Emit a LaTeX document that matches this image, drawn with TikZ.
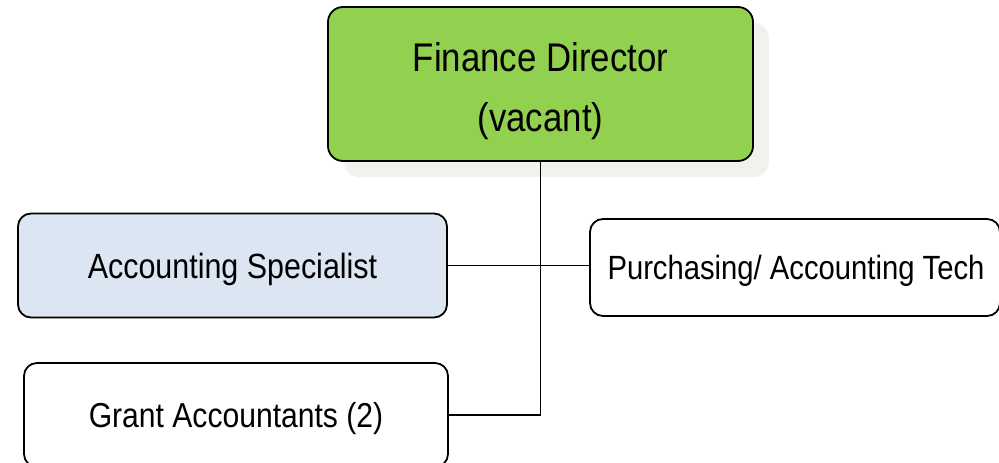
\documentclass[tikz,border=0pt]{standalone}
\usepackage{fontspec}
\setmainfont{Liberation Sans}[FakeStretch=0.87]
\usetikzlibrary{shadows}
\definecolor{dirgreen}{HTML}{92D050}
\definecolor{specblue}{HTML}{DCE6F2}
\definecolor{shadowc}{HTML}{F2F1EC}
\begin{document}
\begin{tikzpicture}[x=1bp,y=-1bp,
  box/.style={draw=black, line width=1.8bp, rounded corners=13bp, inner sep=0pt},
  txt/.style={inner sep=0pt, align=center},
  conn/.style={draw=black, line width=1.6bp}]
\useasboundingbox (0,0) rectangle (999,463);
\node[box, rounded corners=15bp, fill=dirgreen, minimum width=425bp, minimum height=154bp,
  drop shadow={shadow xshift=16bp, shadow yshift=-16bp, fill=shadowc, opacity=1}] (top) at (540.5,84) {};
\node[txt, font=\fontsize{40bp}{60bp}\selectfont] (toptext) at ([yshift=-7bp]top.center) {Finance Director\\(vacant)};
\node[box, fill=specblue, minimum width=429bp, minimum height=104bp] (spec) at (232.5,265.5) {};
\node[txt, font=\fontsize{35bp}{42bp}\selectfont] (spectext) at ([yshift=-3.5bp]spec.center) {Accounting Specialist};
\node[box, fill=white, minimum width=410bp, minimum height=97bp] (purch) at (795,267.5) {};
\node[txt, font=\fontsize{33.6bp}{40bp}\selectfont] (purchtext) at ([xshift=1bp,yshift=-3bp]purch.center) {Purchasing/ Accounting Tech};
\node[box, fill=white, minimum width=424bp, minimum height=104bp] (grant) at (236,415) {};
\node[txt, font=\fontsize{34.6bp}{42bp}\selectfont] (granttext) at ([yshift=-3.5bp]grant.center) {Grant Accountants (2)};
\coordinate (elbow) at (top.south |- grant.east);
\draw[conn] (top.south) -- (elbow) -- (grant.east);
\draw[conn] (spec.east) -- (purch.west |- spec.east);
\end{tikzpicture}
\end{document}
